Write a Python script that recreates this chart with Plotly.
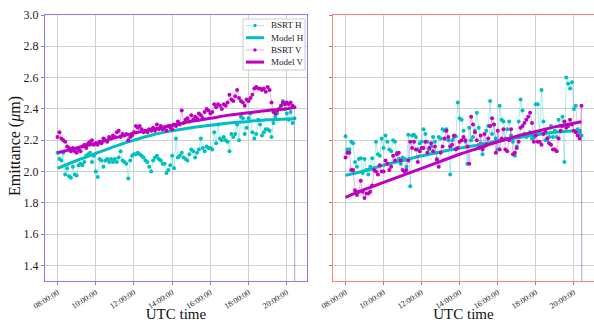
import pandas as pd
import plotly.graph_objects as go

DAY = "2018-10-24"

# BSRT samples every 6 minutes from 08:00, followed by the beam dump reading
t_bsrt = list(pd.date_range(f"{DAY} 08:00", periods=125, freq="6min")) + [pd.Timestamp(f"{DAY} 20:26")]
# model evaluated hourly plus the end of fill
t_model = list(pd.date_range(f"{DAY} 08:00", periods=13, freq="1h")) + [pd.Timestamp(f"{DAY} 20:24")]

# ---- Beam 1 ----
b1_bsrt_h = [
    2.12, 2.08, 2.07, 2.12, 1.98, 2.02, 1.97, 1.96, 2.03, 1.98,
    1.975, 2.04, 2.05, 2.04, 2.06, 2.10, 2.11, 2.12, 2.06, 2.10,
    2.00, 1.965, 2.08, 2.07, 2.03, 2.07, 2.08, 2.06, 2.08, 2.06,
    2.08, 2.06, 2.09, 2.13, 2.07, 2.06, 2.05, 1.955, 2.07, 2.10,
    2.11, 2.11, 2.12, 2.11, 2.10, 2.09, 2.07, 2.06, 2.03, 2.00,
    2.07, 2.09, 2.10, 2.08, 2.07, 2.05, 2.05, 1.99, 2.01, 2.04,
    2.10, 2.02, 2.21, 2.09, 2.10, 2.12, 2.09, 2.08, 2.07, 2.11,
    2.14, 2.13, 2.09, 2.12, 2.14, 2.21, 2.15, 2.13, 2.16, 2.15,
    2.15, 2.14, 2.25, 2.18, 2.30, 2.21, 2.20, 2.22, 2.20, 2.19,
    2.13, 2.24, 2.22, 2.24, 2.30, 2.20, 2.35, 2.34, 2.24, 2.28,
    2.34, 2.37, 2.25, 2.21, 2.24, 2.33, 2.30, 2.23, 2.25, 2.27,
    2.27, 2.26, 2.22, 2.31, 2.35, 2.37, 2.40, 2.42, 2.45, 2.40,
    2.37, 2.33, 2.38, 2.31, 2.34,
    0.0,
]
b1_bsrt_v = [
    2.22, 2.25, 2.21, 2.20, 2.19, 2.16, 2.15, 2.13, 2.15, 2.13,
    2.12, 2.14, 2.13, 2.16, 2.17, 2.15, 2.18, 2.19, 2.20, 2.17,
    2.18, 2.17, 2.19, 2.18, 2.21, 2.20, 2.19, 2.22, 2.21, 2.23,
    2.22, 2.25, 2.26, 2.22, 2.24, 2.23, 2.24, 2.20, 2.22, 2.23,
    2.25, 2.29, 2.28, 2.29, 2.27, 2.25, 2.26, 2.25, 2.27, 2.26,
    2.28, 2.26, 2.30, 2.27, 2.29, 2.27, 2.28, 2.26, 2.29, 2.28,
    2.27, 2.30, 2.29, 2.32, 2.30, 2.39, 2.31, 2.33, 2.34, 2.32,
    2.36, 2.33, 2.35, 2.34, 2.37, 2.36, 2.34, 2.38, 2.40, 2.39,
    2.37, 2.38, 2.43, 2.41, 2.43, 2.42, 2.40, 2.43, 2.42, 2.44,
    2.49, 2.46, 2.45, 2.48, 2.52, 2.47, 2.45, 2.44, 2.42, 2.46,
    2.45, 2.47, 2.49, 2.53, 2.54, 2.53, 2.53, 2.52, 2.53, 2.51,
    2.54, 2.52, 2.44, 2.38, 2.37, 2.39, 2.40, 2.42, 2.44, 2.43,
    2.44, 2.43, 2.44, 2.42, 2.41,
    0.0,
]
b1_model_h = [2.02, 2.07, 2.115, 2.16, 2.20, 2.235, 2.26, 2.28, 2.295, 2.31, 2.32, 2.33, 2.335, 2.337]
b1_model_v = [2.12, 2.15, 2.18, 2.215, 2.245, 2.27, 2.295, 2.32, 2.34, 2.36, 2.375, 2.39, 2.40, 2.41]

# ---- Beam 2 ----
b2_bsrt_h = [
    2.225, 2.14, 2.14, 2.19, 2.18, 2.06, 2.03, 2.08, 2.085, 1.99,
    2.08, 2.01, 1.98, 2.03, 2.085, 2.02, 2.19, 2.11, 2.10, 2.21,
    2.15, 2.23, 2.19, 2.14, 2.13, 2.20, 2.19, 2.12, 2.08, 2.05,
    2.09, 2.08, 2.03, 2.235, 1.905, 2.23, 2.235, 2.22, 2.14, 2.18,
    2.19, 2.27, 2.24, 2.19, 2.14, 2.16, 2.22, 2.19, 2.08, 2.22,
    2.21, 2.27, 2.26, 2.27, 2.20, 1.98, 2.20, 2.22, 2.225, 2.44,
    2.34, 2.33, 2.26, 2.19, 2.05, 2.28, 2.20, 2.22, 2.26, 2.375,
    2.28, 2.18, 2.11, 2.16, 2.26, 2.29, 2.45, 2.24, 2.30, 2.21,
    2.14, 2.42, 2.33, 2.32, 2.21, 2.27, 2.32, 2.23, 2.19, 2.10,
    2.16, 2.32, 2.46, 2.39, 2.24, 2.22, 2.23, 2.25, 2.21, 2.22,
    2.43, 2.43, 2.24, 2.52, 2.32, 2.20, 2.20, 2.22, 2.29, 2.22,
    2.26, 2.22, 2.33, 2.29, 2.35, 2.06, 2.60, 2.56, 2.53, 2.57,
    2.40, 2.42, 2.27, 2.25, 2.23,
    0.0,
]
b2_bsrt_v = [
    2.09, 2.12, 2.12, 2.01, 2.01, 1.88, 1.85, 1.87, 1.94, 1.87,
    1.83, 1.86, 1.86, 1.87, 1.91, 2.01, 2.00, 1.98, 2.04, 2.00,
    2.00, 2.07, 2.05, 2.01, 2.03, 2.10, 2.07, 2.11, 2.12, 2.07,
    2.01, 2.00, 2.01, 2.07, 2.19, 2.15, 2.19, 2.14, 2.06, 2.13,
    2.15, 2.15, 2.19, 2.12, 2.15, 2.18, 2.13, 2.16, 2.075, 2.03,
    2.12, 2.16, 2.21, 2.26, 2.22, 2.16, 2.17, 2.23, 2.14, 2.15,
    2.19, 2.20, 2.22, 2.20, 2.16, 2.05, 2.35, 2.30, 2.25, 2.20,
    2.15, 2.23, 2.14, 2.24, 2.17, 2.21, 2.29, 2.34, 2.30, 2.12,
    2.26, 2.14, 2.21, 2.27, 2.14, 2.13, 2.20, 2.27, 2.11, 2.12,
    2.15, 2.19, 2.28, 2.29, 2.31, 2.33, 2.35, 2.375, 2.31, 2.19,
    2.23, 2.19, 2.19, 2.17, 2.24, 2.26, 2.21, 2.18, 2.17, 2.14,
    2.14, 2.13, 2.21, 2.26, 2.29, 2.32, 2.28, 2.29, 2.33, 2.30,
    2.26, 2.25, 2.23, 2.21, 2.42,
    0.0,
]
b2_model_h = [1.975, 2.005, 2.04, 2.07, 2.10, 2.125, 2.15, 2.17, 2.195, 2.215, 2.235, 2.25, 2.26, 2.262]
b2_model_v = [1.835, 1.885, 1.93, 1.975, 2.02, 2.065, 2.11, 2.15, 2.19, 2.225, 2.255, 2.285, 2.308, 2.318]

tick_times = pd.date_range(f"{DAY} 08:00", periods=7, freq="2h")
x_range = [f"{DAY} 07:20:30", f"{DAY} 21:03:30"]
y_ticks = [1.4, 1.6, 1.8, 2.0, 2.2, 2.4, 2.6, 2.8, 3.0]
legend_labels = ["BSRT H", "Model H", "BSRT V", "Model V"]

CYAN = "#00bfbf"
CYAN_LINE = "rgba(0,191,191,0.3)"
MAGENTA = "#bf00bf"
MAGENTA_LINE = "rgba(191,0,191,0.3)"
FONT = "Liberation Serif, Times New Roman, serif"

W, H = 594, 322

fig = go.Figure()


def add_beam(xa, ya, bsrt_h, model_h, bsrt_v, model_v):
    fig.add_trace(go.Scatter(
        x=t_bsrt, y=bsrt_h, mode="lines+markers", name="BSRT H",
        line=dict(color=CYAN_LINE, width=1), marker=dict(color=CYAN, size=4),
        xaxis=xa, yaxis=ya, showlegend=False))
    fig.add_trace(go.Scatter(
        x=t_model, y=model_h, mode="lines", name="Model H",
        line=dict(color=CYAN, width=3, shape="spline"),
        xaxis=xa, yaxis=ya, showlegend=False))
    fig.add_trace(go.Scatter(
        x=t_bsrt, y=bsrt_v, mode="lines+markers", name="BSRT V",
        line=dict(color=MAGENTA_LINE, width=1), marker=dict(color=MAGENTA, size=4),
        xaxis=xa, yaxis=ya, showlegend=False))
    fig.add_trace(go.Scatter(
        x=t_model, y=model_v, mode="lines", name="Model V",
        line=dict(color=MAGENTA, width=3, shape="spline"),
        xaxis=xa, yaxis=ya, showlegend=False))


add_beam("x", "y", b1_bsrt_h, b1_model_h, b1_bsrt_v, b1_model_v)
add_beam("x2", "y2", b2_bsrt_h, b2_model_h, b2_bsrt_v, b2_model_v)


# compact legend box in the upper right corner of the first panel
def px(x):
    return x / W


def py(y):
    return 1 - y / H


shapes = [dict(type="rect", xref="paper", yref="paper",
               x0=px(243), x1=px(305), y0=py(70), y1=py(19),
               line=dict(color="#cccccc", width=1), fillcolor="rgba(255,255,255,0.85)", layer="above")]
annotations = []
styles = [(CYAN_LINE, 1, CYAN), (CYAN, 3, None), (MAGENTA_LINE, 1, MAGENTA), (MAGENTA, 3, None)]
for i, (label, (lc, lw, mc)) in enumerate(zip(legend_labels, styles)):
    yy = 25.5 + i * 12.2
    shapes.append(dict(type="line", xref="paper", yref="paper",
                       x0=px(246), x1=px(264), y0=py(yy), y1=py(yy),
                       line=dict(color=lc, width=lw), layer="above"))
    if mc:
        shapes.append(dict(type="circle", xref="paper", yref="paper",
                           x0=px(253.3), x1=px(256.7), y0=py(yy + 1.7), y1=py(yy - 1.7),
                           line=dict(width=0), fillcolor=mc, layer="above"))
    annotations.append(dict(text=label, xref="paper", yref="paper", x=px(268.5), y=py(yy),
                            xanchor="left", yanchor="middle", showarrow=False,
                            font=dict(size=9, family=FONT, color="#222")))

# shared y-axis title, placed left of the tick labels
annotations.append(dict(text="Emittance (<i>μ</i>m)", xref="paper", yref="paper",
                        x=px(15), y=py(146), xanchor="center", yanchor="middle",
                        textangle=-90, showarrow=False,
                        font=dict(size=16, family=FONT, color="#111")))

y_dom = [1 - 281 / H, 1 - 15 / H]

xcommon = dict(
    type="date", range=x_range, tickvals=list(tick_times), tickformat="%H:%M:%S",
    tickangle=-32, tickfont=dict(size=8, color="#222", family=FONT),
    showgrid=True, gridcolor="#d0d0d0", gridwidth=1,
    showline=True, mirror=True, linewidth=1, automargin=False,
    ticks="outside", ticklen=3, tickcolor="#888", zeroline=False,
    title=dict(text="UTC time", font=dict(size=15, family=FONT, color="#111"), standoff=2),
)
ycommon = dict(
    range=[1.3, 3.0], tickvals=y_ticks, tickformat=".1f",
    tickfont=dict(size=12, color="#222", family=FONT),
    showgrid=True, gridcolor="#d0d0d0", gridwidth=1,
    showline=True, mirror=True, linewidth=1, automargin=False,
    ticks="outside", ticklen=3, tickcolor="#888", zeroline=False,
)

fig.update_layout(
    width=W, height=H,
    margin=dict(l=0, r=0, t=0, b=0),
    paper_bgcolor="white", plot_bgcolor="white",
    font=dict(family=FONT, color="#222"),
    showlegend=False,
    shapes=shapes, annotations=annotations,
    xaxis=dict(xcommon, domain=[45 / W, 307 / W], anchor="y", linecolor="#8080ff"),
    yaxis=dict(ycommon, domain=y_dom, anchor="x", linecolor="#8080ff"),
    xaxis2=dict(xcommon, domain=[333 / W, 1.0], anchor="y2", linecolor="#ff8080"),
    yaxis2=dict(ycommon, domain=y_dom, anchor="x2", matches="y", showticklabels=False, linecolor="#ff8080"),
)

fig.write_html("out.html")
